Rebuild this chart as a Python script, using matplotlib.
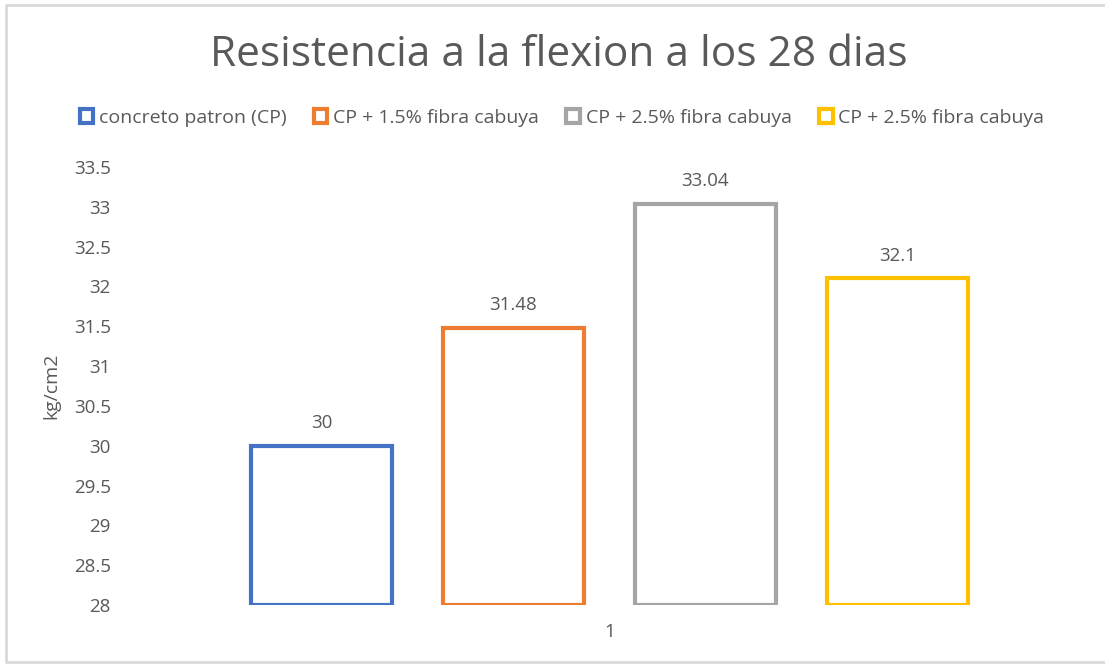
import matplotlib
matplotlib.use("Agg")
import matplotlib.pyplot as plt
from matplotlib.patches import Patch
from matplotlib.lines import Line2D

plt.rcParams['font.family'] = ['Open Sans', 'DejaVu Sans']

series_names = ["concreto patron (CP)", "CP + 1.5% fibra cabuya",
                "CP + 2.5% fibra cabuya", "CP + 2.5% fibra cabuya"]
values = [30, 31.48, 33.04, 32.1]
value_labels = ["30", "31.48", "33.04", "32.1"]
colors = ["#4472C4", "#ED7D31", "#A5A5A5", "#FFC000"]
category = "1"
y_ticks = [28, 28.5, 29, 29.5, 30, 30.5, 31, 31.5, 32, 32.5, 33, 33.5]

text_color = "#595959"
W, H = 1105, 664
fig = plt.figure(figsize=(W / 100, H / 100), dpi=100)
fig.patch.set_facecolor("white")

# chart frame: left, top and bottom edges
frame_x = [W + 5, 6, 6, W + 5]
frame_y = [H - 5, H - 5, 2, 2]
fig.add_artist(Line2D([x / W for x in frame_x], [y / H for y in frame_y],
                      transform=fig.transFigure, color="#D9D9D9",
                      linewidth=2))

ax = fig.add_axes([122 / W, 1 - 605 / H, 975 / W, (605 - 167) / H])
ax.set_xlim(-0.5, 0.5)
ax.set_ylim(28, 33.5)

bar_w = 141 / 975
step = 192 / 975
for i, (v, c, lab) in enumerate(zip(values, colors, value_labels)):
    x = (i - 1.5) * step
    ax.bar(x, v - 28, bottom=28, width=bar_w, facecolor="white",
           edgecolor=c, linewidth=3)
    ax.annotate(lab, (x, v), xytext=(0, 10), textcoords="offset points",
                ha="center", va="bottom", fontsize=13.5, color=text_color)

for s in ax.spines.values():
    s.set_visible(False)
ax.set_yticks(y_ticks)
ax.set_yticklabels([f"{t:g}" for t in y_ticks])
ax.set_xticks([0])
ax.set_xticklabels([category])
ax.tick_params(axis="both", length=0, labelsize=13.5, colors=text_color)
ax.tick_params(axis="y", pad=8)
ax.tick_params(axis="x", pad=13)
ax.set_ylabel("kg/cm2", fontsize=14, color=text_color, labelpad=10)

fig.text(559 / W, 1 - 55 / H, "Resistencia a la flexion a los 28 dias",
         ha="center", va="center", fontsize=30.5, color=text_color)

handles = [Patch(facecolor="white", edgecolor=c, linewidth=3) for c in colors]
fig.legend(handles, series_names, loc="center", ncol=4,
           bbox_to_anchor=(562 / W, 1 - 118 / H), frameon=False,
           fontsize=14, labelcolor=text_color, handlelength=0.7,
           handleheight=0.7, handletextpad=0.3, columnspacing=1.4)

fig.savefig("out.png", dpi=100, facecolor="white")
